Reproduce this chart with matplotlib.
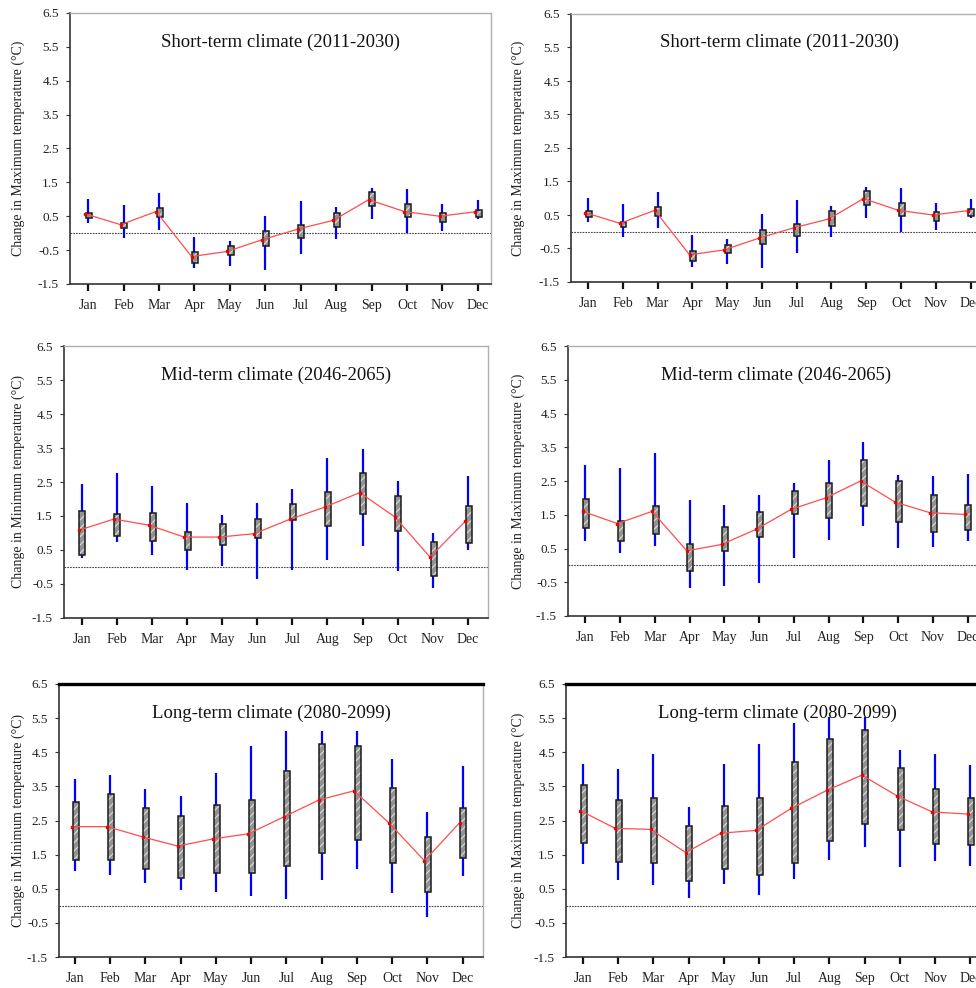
import numpy as np
import matplotlib
matplotlib.use('Agg')
import matplotlib.pyplot as plt

plt.rcParams['font.family'] = ['Liberation Serif', 'DejaVu Serif']
plt.rcParams['axes.unicode_minus'] = False
plt.rcParams['hatch.linewidth'] = 0.8

months = ['Jan', 'Feb', 'Mar', 'Apr', 'May', 'Jun', 'Jul', 'Aug', 'Sep', 'Oct', 'Nov', 'Dec']
yticks = [-1.5, -0.5, 0.5, 1.5, 2.5, 3.5, 4.5, 5.5, 6.5]

# kortfristigt klima (samma i båda panelerna)
short_hi = [1.01, 0.84, 1.19, -0.11, -0.22, 0.52, 0.94, 0.78, 1.33, 1.30, 0.87, 0.99]
short_q3 = [0.61, 0.30, 0.73, -0.57, -0.39, 0.06, 0.24, 0.61, 1.22, 0.86, 0.60, 0.68]
short_q1 = [0.45, 0.14, 0.47, -0.88, -0.64, -0.38, -0.13, 0.18, 0.80, 0.48, 0.33, 0.48]
short_lo = [0.30, -0.15, 0.10, -1.04, -0.96, -1.08, -0.62, -0.17, 0.42, 0.00, 0.05, 0.42]
short_mean = [0.57, 0.25, 0.64, -0.69, -0.54, -0.19, 0.12, 0.38, 0.99, 0.64, 0.50, 0.63]

# mellanfristigt, minimitemperatur
mid_min_hi = [2.45, 2.76, 2.37, 1.87, 1.54, 1.87, 2.28, 3.22, 3.48, 2.52, 1.01, 2.69]
mid_min_q3 = [1.64, 1.56, 1.60, 1.04, 1.26, 1.40, 1.85, 2.22, 2.77, 2.08, 0.73, 1.80]
mid_min_q1 = [0.36, 0.91, 0.77, 0.51, 0.66, 0.86, 1.39, 1.22, 1.57, 1.05, -0.25, 0.72]
mid_min_lo = [0.26, 0.74, 0.36, -0.10, 0.04, -0.35, -0.08, 0.22, 0.63, -0.12, -0.62, 0.49]
mid_min_mean = [1.08, 1.41, 1.23, 0.88, 0.88, 0.98, 1.40, 1.76, 2.19, 1.47, 0.29, 1.34]

# mellanfristigt, maximitemperatur
mid_max_hi = [2.98, 2.89, 3.34, 1.93, 1.78, 2.08, 2.44, 3.11, 3.65, 2.69, 2.65, 2.72]
mid_max_q3 = [1.98, 1.31, 1.77, 0.64, 1.14, 1.58, 2.21, 2.43, 3.13, 2.49, 2.09, 1.79]
mid_max_q1 = [1.12, 0.72, 0.94, -0.18, 0.42, 0.83, 1.52, 1.41, 1.77, 1.30, 1.00, 1.06]
mid_max_lo = [0.72, 0.37, 0.57, -0.67, -0.62, -0.51, 0.23, 0.76, 1.17, 0.51, 0.54, 0.71]
mid_max_mean = [1.60, 1.24, 1.60, 0.43, 0.62, 1.07, 1.66, 2.00, 2.50, 1.87, 1.56, 1.51]

# långfristigt, minimitemperatur
long_min_hi = [3.73, 3.84, 3.42, 3.21, 3.90, 4.69, 5.11, 5.11, 5.11, 4.31, 2.76, 4.09]
long_min_q3 = [3.04, 3.29, 2.88, 2.63, 2.94, 3.09, 3.96, 4.75, 4.69, 3.45, 2.03, 2.88]
long_min_q1 = [1.33, 1.33, 1.07, 0.81, 0.96, 0.96, 1.16, 1.56, 1.93, 1.26, 0.40, 1.41]
long_min_lo = [1.01, 0.89, 0.66, 0.45, 0.40, 0.30, 0.20, 0.76, 1.07, 0.37, -0.34, 0.86]
long_min_mean = [2.32, 2.32, 2.02, 1.75, 1.96, 2.11, 2.60, 3.10, 3.37, 2.42, 1.32, 2.44]

# långfristigt, maximitemperatur
long_max_hi = [4.15, 4.02, 4.46, 2.91, 4.16, 4.75, 5.37, 5.54, 5.52, 4.57, 4.44, 4.13]
long_max_q3 = [3.54, 3.11, 3.15, 2.33, 2.92, 3.17, 4.22, 4.88, 5.14, 4.03, 3.43, 3.17]
long_max_q1 = [1.85, 1.28, 1.25, 0.72, 1.08, 0.90, 1.25, 1.89, 2.41, 2.22, 1.80, 1.78]
long_max_lo = [1.23, 0.76, 0.60, 0.24, 0.63, 0.32, 0.78, 1.35, 1.72, 1.15, 1.31, 1.17]
long_max_mean = [2.79, 2.27, 2.24, 1.56, 2.13, 2.21, 2.86, 3.38, 3.83, 3.22, 2.75, 2.69]

W, H = 976, 988
fig = plt.figure(figsize=(W / 100, H / 100), dpi=100)
x = np.arange(1, 13)


def panel(px, xlim, title, ylabel, lab_x, hi, q3, q1, lo, mean, thick_top=False):
    x0, x1, y0, y1 = px
    ax = fig.add_axes([x0 / W, 1 - y1 / H, (x1 - x0) / W, (y1 - y0) / H])
    hi, q3, q1, lo = map(np.array, (hi, q3, q1, lo))

    ax.axhline(0, color='#444444', lw=0.8, ls=(0, (1.5, 1)), zorder=1)
    ax.vlines(x, lo, hi, color='#0000ff', lw=1.6, zorder=2)
    ax.bar(x + 0.02, q3 - q1, bottom=q1, width=0.17, color='#929292',
           edgecolor='#dcdcdc', hatch='////', lw=0, zorder=3)
    ax.bar(x + 0.02, q3 - q1, bottom=q1, width=0.17, fill=False,
           edgecolor='#1a1a1a', lw=1.1, zorder=4)
    ax.plot(x - 0.08, mean, color='#ff4d4d', lw=0.9, marker='s', ms=1.6,
            mfc='#ee0000', mec='#ee0000', zorder=5)

    ax.set_xlim(*xlim)
    ax.set_ylim(-1.5, 6.5)
    ax.set_xticks(x)
    ax.set_xticklabels(months)
    ax.set_yticks(yticks)
    ax.set_yticklabels(['%.1f' % v for v in yticks])
    ax.tick_params(axis='y', direction='out', length=3, width=0.8, pad=5,
                   labelsize=9.5, color='#333333', labelcolor='#222222')
    ax.tick_params(axis='x', direction='out', length=5, width=1.6, pad=6,
                   labelsize=10, color='#111111', labelcolor='#222222')

    for s in ('left', 'bottom'):
        ax.spines[s].set_color('#333333')
        ax.spines[s].set_linewidth(1.2)
    for s in ('top', 'right'):
        ax.spines[s].set_color('#b0b0b0')
        ax.spines[s].set_linewidth(1.0)
    if thick_top:
        ax.spines['top'].set_color('#000000')
        ax.spines['top'].set_linewidth(2.4)

    ax.text(0.5, 0.893, title, transform=ax.transAxes, ha='center', va='center',
            fontsize=13.5, color='#111111')
    ax.set_ylabel(ylabel, fontsize=10, color='#222222')
    ax.yaxis.set_label_coords(lab_x / W, 1 - (y0 + y1) / 2 / H, transform=fig.transFigure)
    return ax


lab_max = 'Change in Maximum temperature (°C)'
lab_min = 'Change in Minimum temperature (°C)'

panel((70, 491, 13, 284), (0.49, 12.37), 'Short-term climate (2011-2030)', lab_max, 25,
      short_hi, short_q3, short_q1, short_lo, short_mean)
panel((571, 988, 14, 282), (0.51, 12.5), 'Short-term climate (2011-2030)', lab_max, 525,
      short_hi, short_q3, short_q1, short_lo, short_mean)
panel((64, 488, 346, 618), (0.5, 12.57), 'Mid-term climate (2046-2065)', lab_min, 25,
      mid_min_hi, mid_min_q3, mid_min_q1, mid_min_lo, mid_min_mean)
panel((568, 985, 346, 616), (0.5, 12.5), 'Mid-term climate (2046-2065)', lab_max, 525,
      mid_max_hi, mid_max_q3, mid_max_q1, mid_max_lo, mid_max_mean)
panel((59, 483, 684, 957), (0.55, 12.58), 'Long-term climate (2080-2099)', lab_min, 25,
      long_min_hi, long_min_q3, long_min_q1, long_min_lo, long_min_mean, thick_top=True)
panel((566, 988, 684, 957), (0.52, 12.5), 'Long-term climate (2080-2099)', lab_max, 525,
      long_max_hi, long_max_q3, long_max_q1, long_max_lo, long_max_mean, thick_top=True)

fig.savefig('out.png', dpi=100)
